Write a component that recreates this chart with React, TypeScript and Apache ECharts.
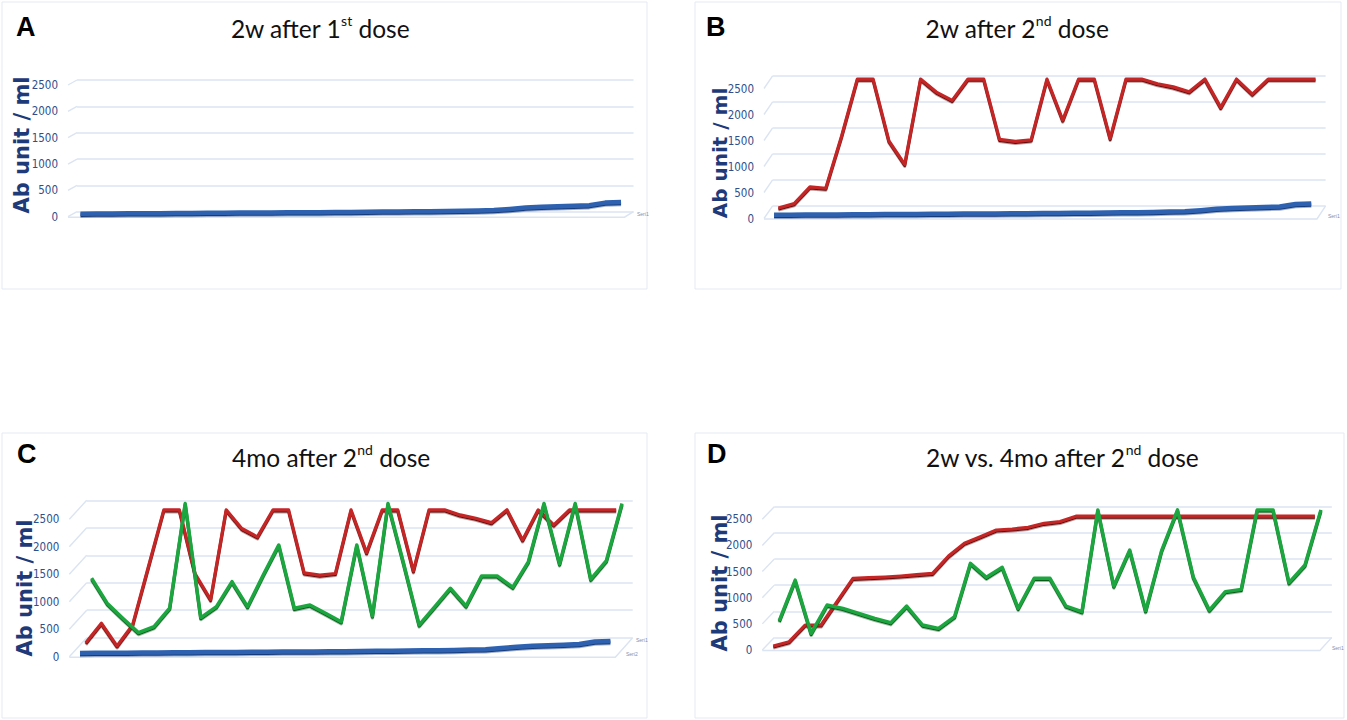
import React, { useEffect, useRef } from "react";
import * as echarts from "echarts";

// ---------- data ----------
const subjects = [
  "1", "2", "3", "4", "5", "6", "7", "8", "9", "10", "11", "12", "13", "14", "15", "16", "17", "18",
  "19", "20", "21", "22", "23", "24", "25", "26", "27", "28", "29", "30", "31", "32", "33", "34", "35",
];
const yTicks = [0, 500, 1000, 1500, 2000, 2500];

// 2 weeks after 1st dose (sorted ascending) – panels A, B, C
const blue1stDose = [
  10, 12, 14, 16, 18, 20, 22, 24, 26, 28, 30, 32, 34, 36, 37, 38, 40, 43, 46, 49, 52, 55, 58, 62, 66,
  72, 80, 100, 125, 140, 150, 160, 172, 220, 230,
];
// 2 weeks after 2nd dose – panel B order
const red2ndDoseB = [
  20, 105, 425, 400, 1400, 2500, 2500, 1310, 860, 2500, 2250, 2090, 2500, 2500, 1340, 1300, 1330, 2500,
  1710, 2500, 2500, 1360, 2500, 2500, 2410, 2350, 2255, 2500, 1955, 2500, 2210, 2500, 2500, 2500, 2500,
];
// 2 weeks after 2nd dose – panel C order
const red2ndDoseC = [
  83, 436, 23, 405, 1450, 2500, 2500, 1341, 868, 2500, 2160, 2008, 2500, 2500, 1353, 1311, 1341, 2500,
  1720, 2500, 2500, 1387, 2500, 2500, 2407, 2346, 2266, 2500, 1952, 2500, 2225, 2500, 2500, 2500, 2500,
];
// 4 months after 2nd dose – panel C order
const green4moC = [
  1140, 685, 412, 150, 260, 594, 2500, 423, 624, 1079, 624, 1200, 1746, 594, 654, 503, 350, 1746, 454,
  2500, 1413, 290, 624, 958, 636, 1182, 1182, 976, 1443, 2500, 1400, 2500, 1122, 1461, 2500,
];
// panel D: ordered by the 2w-after-2nd-dose value
const red2ndDoseD = [
  16, 99, 418, 418, 864, 1311, 1323, 1336, 1355, 1380, 1407, 1738, 1981, 2107, 2235, 2254, 2287, 2363,
  2398, 2500, 2500, 2500, 2500, 2500, 2500, 2500, 2500, 2500, 2500, 2500, 2500, 2500, 2500, 2500, 2500,
];
const green4moD = [
  380, 1158, 138, 680, 617, 521, 425, 342, 661, 297, 234, 456, 1477, 1210, 1401, 617, 1191, 1191, 661,
  552, 2500, 1043, 1732, 571, 1719, 2500, 1210, 584, 935, 980, 2500, 2500, 1107, 1445, 2500,
];

// ---------- styles ----------
const PALETTE: Record<string, { c: string; d: string; w: number }> = {
  blue: { c: "#2f62b0", d: "#163a7a", w: 4.5 },
  red: { c: "#c42526", d: "#5e0c0c", w: 3.2 },
  green: { c: "#1fa63f", d: "#0a5a1c", w: 3.4 },
};
const GRID_COLOR = "#dbe4f2";
const LABEL_COLOR = "#2f4f8c";
const AXIS_TITLE_COLOR = "#1f3a78";

type SeriesDef = { name: string; data: number[]; color: string };
type Panel = {
  letter: string;
  box: number[];
  letterPos: number[];
  title: string[];
  titlePos: number[];
  axisTitlePos: number[];
  axisTitleSize: number;
  FLx: number;
  w: number;
  dx: number;
  dy: number;
  frontY0: number;
  scale: number;
  series: SeriesDef[];
  tags: number[][];
};

const panels: Panel[] = [
  {
    letter: "A", box: [2, 2, 645, 287], letterPos: [16, 27], title: ["2w after 1", "st", " dose"],
    titlePos: [320, 26], axisTitlePos: [22, 145], axisTitleSize: 21,
    FLx: 68, w: 15.9, dx: 9, dy: 5, frontY0: 216.7, scale: 26.34,
    series: [{ name: "2w after 1st dose", data: blue1stDose, color: "blue" }],
    tags: [[637, 214]],
  },
  {
    letter: "B", box: [695, 2, 646, 287], letterPos: [706, 27], title: ["2w after 2", "nd", " dose"],
    titlePos: [1017, 26], axisTitlePos: [720, 153], axisTitleSize: 20,
    FLx: 764, w: 15.8, dx: 8.6, dy: 12.6, frontY0: 218.5, scale: 26,
    series: [
      { name: "2w after 1st dose", data: blue1stDose, color: "blue" },
      { name: "2w after 2nd dose", data: red2ndDoseB, color: "red" },
    ],
    tags: [[1328, 216]],
  },
  {
    letter: "C", box: [2, 433, 645, 285], letterPos: [17, 454], title: ["4mo after 2", "nd", " dose"],
    titlePos: [331, 455], axisTitlePos: [25, 588], axisTitleSize: 21,
    FLx: 69.3, w: 15.6, dx: 17.4, dy: 19, frontY0: 656.7, scale: 27.48,
    series: [
      { name: "2w after 1st dose", data: blue1stDose, color: "blue" },
      { name: "2w after 2nd dose", data: red2ndDoseC, color: "red" },
      { name: "4mo after 2nd dose", data: green4moC, color: "green" },
    ],
    tags: [[636, 640], [626, 654]],
  },
  {
    letter: "D", box: [695, 433, 649, 285], letterPos: [707, 454], title: ["2w vs. 4mo after 2", "nd", " dose"],
    titlePos: [1062, 455], axisTitlePos: [720, 583], axisTitleSize: 21,
    FLx: 762.3, w: 15.93, dx: 12, dy: 12.6, frontY0: 650, scale: 26.14,
    series: [
      { name: "2w after 2nd dose", data: red2ndDoseD, color: "red" },
      { name: "4mo after 2nd dose", data: green4moD, color: "green" },
    ],
    tags: [[1332, 648]],
  },
];

function buildOption() {
  const grid: any[] = [];
  const xAxis: any[] = [];
  const yAxis: any[] = [];
  const series: any[] = [];
  const graphic: any[] = [];
  const n = subjects.length;
  const maxV = yTicks[yTicks.length - 1];

  const addGrid = (left: number, top: number, width: number, height: number, y: any, boundaryGap: boolean) => {
    const idx = grid.length;
    grid.push({ left, top, width, height, containLabel: false });
    xAxis.push({ type: "category", data: subjects, gridIndex: idx, show: false, boundaryGap });
    yAxis.push(Object.assign({ type: "value", gridIndex: idx, min: 0, max: maxV, interval: 500 }, y));
    return idx;
  };

  panels.forEach((p) => {
    const depthSpan = p.w * n;
    const hSpan = p.scale * (maxV / 500);
    graphic.push({
      type: "rect", shape: { x: p.box[0], y: p.box[1], width: p.box[2], height: p.box[3] },
      style: { fill: "none", stroke: "#e3e9f3", lineWidth: 1 }, silent: true, z: 0,
    });
    const bx0 = p.FLx + p.dx;
    const by0 = p.frontY0 - p.dy;
    addGrid(bx0, by0 - hSpan, depthSpan, hSpan, {
      axisLabel: { show: false }, axisLine: { show: false }, axisTick: { show: false },
      splitLine: { show: true, lineStyle: { color: GRID_COLOR, width: 1.6 } },
    }, true);
    yTicks.forEach((v) => {
      const off = (v / 500) * p.scale;
      graphic.push({
        type: "line", silent: true, z: 1,
        shape: { x1: p.FLx, y1: p.frontY0 - off, x2: bx0, y2: by0 - off },
        style: { stroke: GRID_COLOR, lineWidth: 1.4 },
      });
    });
    graphic.push({
      type: "polyline", silent: true, z: 1,
      shape: { points: [[p.FLx, p.frontY0 + 0.5], [p.FLx + depthSpan, p.frontY0 + 0.5], [bx0 + depthSpan, by0]] },
      style: { stroke: GRID_COLOR, lineWidth: 1.4, fill: "none" },
    });
    addGrid(p.FLx, p.frontY0 - hSpan, 10, hSpan, {
      axisLabel: {
        show: true, margin: 10, color: LABEL_COLOR, fontSize: 11.5,
        fontFamily: '"Liberation Sans Narrow", "DejaVu Sans Condensed", sans-serif',
        formatter: (v: number) => String(v),
      },
      axisLine: { show: false }, axisTick: { show: false }, splitLine: { show: false },
    }, true);
    const k = p.series.length;
    p.series.forEach((s, i) => {
      const fx = ((i + 0.5) / k) * p.dx;
      const fy = ((i + 0.5) / k) * p.dy;
      const x0 = p.FLx + p.w / 2 + fx;
      const y0 = p.frontY0 - fy;
      const gi = addGrid(x0, y0 - hSpan, p.w * (n - 1), hSpan, { show: false }, false);
      const st = PALETTE[s.color];
      series.push({
        type: "line", name: s.name, data: s.data, xAxisIndex: gi, yAxisIndex: gi,
        symbol: "none", clip: false, silent: true, z: 3 + i,
        lineStyle: { color: st.c, width: st.w, shadowColor: st.d, shadowOffsetY: 1.4, shadowBlur: 0, join: "round" },
      });
    });
    graphic.push({
      type: "text", x: p.letterPos[0], y: p.letterPos[1], silent: true, z: 10,
      style: {
        text: p.letter, fill: "#000", fontSize: 27, fontWeight: "bold",
        fontFamily: '"Liberation Sans", Arial, sans-serif', align: "left", verticalAlign: "middle",
      },
    });
    graphic.push({
      type: "text", x: p.titlePos[0], y: p.titlePos[1], silent: true, z: 10,
      style: {
        text: `{a|${p.title[0]}}{s|${p.title[1]}}{a|${p.title[2]}}`,
        align: "center", verticalAlign: "middle",
        rich: {
          a: { fontSize: 24.5, fontFamily: "Lato, 'Open Sans', sans-serif", fill: "#111", lineHeight: 30, verticalAlign: "bottom" },
          s: { fontSize: 14, fontFamily: "Lato, 'Open Sans', sans-serif", fill: "#111", lineHeight: 30, verticalAlign: "top", padding: [2, 0, 0, 0] },
        },
      },
    });
    graphic.push({
      type: "text", x: p.axisTitlePos[0], y: p.axisTitlePos[1], rotation: Math.PI / 2, silent: true, z: 10,
      style: {
        text: "Ab unit / ml", fill: AXIS_TITLE_COLOR, fontSize: p.axisTitleSize, fontWeight: "bold",
        fontFamily: '"DejaVu Sans", Verdana, sans-serif', align: "center", verticalAlign: "middle",
      },
    });
    p.tags.forEach((t, j) => {
      graphic.push({
        type: "text", x: t[0], y: t[1], silent: true, z: 10,
        style: { text: `Seri${j + 1}`, fill: "#7f8fb0", fontSize: 5, fontFamily: "sans-serif", align: "left", verticalAlign: "middle" },
      });
    });
  });

  return {
    animation: false,
    backgroundColor: "#ffffff",
    grid, xAxis, yAxis, series, graphic,
  };
}

export default function App() {
  const ref = useRef<HTMLDivElement>(null);
  useEffect(() => {
    if (!ref.current) return;
    const chart = echarts.init(ref.current, undefined, { renderer: "svg" });
    chart.setOption(buildOption() as any);
    return () => chart.dispose();
  }, []);
  return (
    <div
      ref={ref}
      style={{ position: "fixed", left: 0, top: 0, width: 1347, height: 720, background: "#fff" }}
    />
  );
}
